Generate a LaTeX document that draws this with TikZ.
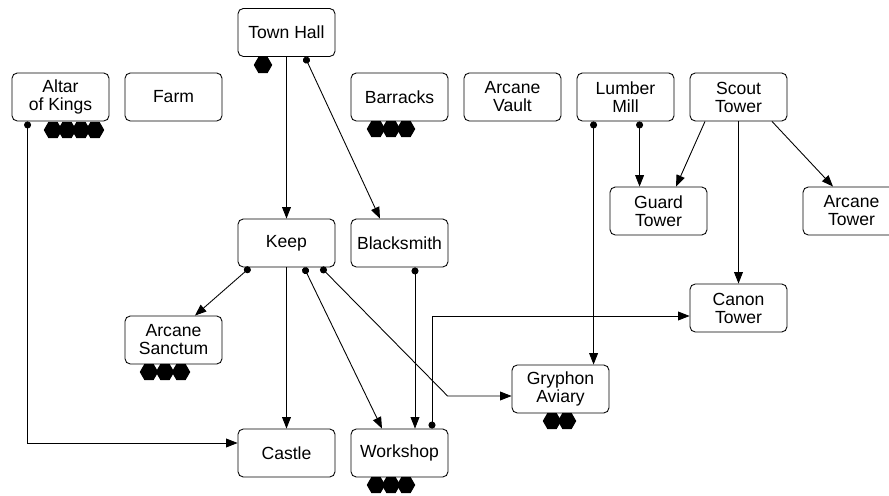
\documentclass[tikz,border=0pt]{standalone}
\usepackage{fontspec}
\setmainfont{Liberation Sans}
\usetikzlibrary{shapes.geometric, arrows.meta, calc}
\tikzset{
  techbox/.style={rectangle, draw, rounded corners=3pt, minimum width=1.94cm,
                  minimum height=0.96cm, align=center, inner sep=1pt,
                  line width=0.5pt, font=\fontsize{10}{10.2}\selectfont},
  techmark/.style={regular polygon, regular polygon sides=6, fill=black,
                   minimum size=0.37cm, inner sep=0pt},
  techreq/.style={-{Triangle[length=6.5pt,width=5pt]}, line width=0.5pt},
  techdep/.style={{Circle[length=4pt]}-{Triangle[length=6.5pt,width=5pt]}, line width=0.5pt},
}
\begin{document}
\begin{tikzpicture}[x=0.02cm,y=-0.02cm]
      \useasboundingbox (0,0) rectangle (889,496);
      \clip (0,0) rectangle (889,496);

      % Column centres
      \def\cA{60.5}
      \def\cB{173.5}
      \def\cC{286.5}
      \def\cD{399.5}
      \def\cE{512.5}
      \def\cF{625.5}
      \def\cG{738.5}
      \def\cH{851.5}

      % Buildings
      \node[techbox] (hall) at (\cC,32.5) {Town Hall};
      \node[techbox] (altar) at (\cA,97) {Altar\\of Kings};
      \node[techbox] (farm) at (\cB,97) {Farm};
      \node[techbox] (barracks) at (\cD,97) {Barracks};
      \node[techbox] (vault) at (\cE,97) {Arcane\\Vault};
      \node[techbox] (mill) at (\cF,97) {Lumber\\Mill};
      \node[techbox] (scout) at (\cG,97) {Scout\\Tower};
      \node[techbox] (guard) at (658.5,211) {Guard\\Tower};
      \node[techbox] (atower) at (\cH,211) {Arcane\\Tower};
      \node[techbox] (keep) at (\cC,243) {Keep};
      \node[techbox] (smith) at (\cD,243) {Blacksmith};
      \node[techbox] (canon) at (\cG,308) {Canon\\Tower};
      \node[techbox] (sanctum) at (\cB,340) {Arcane\\Sanctum};
      \node[techbox] (gryphon) at (560.5,389) {Gryphon\\Aviary};
      \node[techbox] (castle) at (\cC,453) {Castle};
      \node[techbox] (shop) at (\cD,453) {Workshop};

      % Cost markers
      \node[techmark] (hall-m1) at (263,65) {};
      \foreach \i/\x in {1/53,2/67,3/81,4/95}
            \node[techmark] (altar-m\i) at (\x,130) {};
      \foreach \i/\x in {1/376,2/391,3/406}
            \node[techmark] (barracks-m\i) at (\x,129) {};
      \foreach \i/\x in {1/149,2/165,3/181}
            \node[techmark] (sanctum-m\i) at (\x,372) {};
      \foreach \i/\x in {1/552,2/567}
            \node[techmark] (gryphon-m\i) at (\x,421) {};
      \foreach \i/\x in {1/376,2/391,3/406}
            \node[techmark] (shop-m\i) at (\x,485) {};

      % Ports on the box edges
      \coordinate (altar-out) at ($(altar.south west)+(16,0)$);
      \coordinate (mill-out1) at ($(mill.south west)+(17,0)$);
      \coordinate (mill-out2) at ($(mill.south west)+(63,0)$);
      \coordinate (keep-out1) at ($(keep.south)+(-36.5,0)$);
      \coordinate (keep-out2) at ($(keep.south)+(17.5,0)$);
      \coordinate (keep-out3) at ($(keep.south)+(34.5,0)$);
      \coordinate (keep-bend) at ($(gryphon.west)+(-64,7)$);
      \coordinate (shop-out) at ($(shop.north)+(32.5,0)$);

      % Town Hall
      \draw[techreq] (hall.south) -- (keep.north);
      \draw[techdep] ($(hall.south)+(18.5,0)$) -- ($(smith.north)+(-19.5,0)$);

      % Altar of Kings
      \draw[techdep] (altar-out) |- ($(castle.west)+(0,-10)$);

      % Lumber Mill and Scout Tower
      \draw[techdep] (mill-out1) -- (mill-out1 |- gryphon.north);
      \draw[techdep] (mill-out2) -- (mill-out2 |- guard.north);
      \draw[techreq] ($(scout.south)+(-33.5,0)$) -- ($(guard.north)+(17.5,0)$);
      \draw[techreq] (scout.south) -- (canon.north);
      \draw[techreq] ($(scout.south)+(33.5,0)$) -- ($(atower.north)+(-18.5,0)$);

      % Keep
      \draw[techdep] (keep-out1) -- ($(sanctum.north)+(21.5,0)$);
      \draw[techreq] (keep.south) -- (castle.north);
      \draw[techdep] (keep-out2) -- ($(shop.north)+(-17.5,0)$);
      \draw[techdep] (keep-out3) -- (keep-bend) -- ($(gryphon.west)+(0,7)$);

      % Blacksmith and Workshop
      \draw[techdep] ($(smith.south)+(15.5,0)$) -- ($(shop.north)+(15.5,0)$);
      \draw[techdep] (shop-out) |- ($(canon.west)+(0,8)$);

\end{tikzpicture}
\end{document}
